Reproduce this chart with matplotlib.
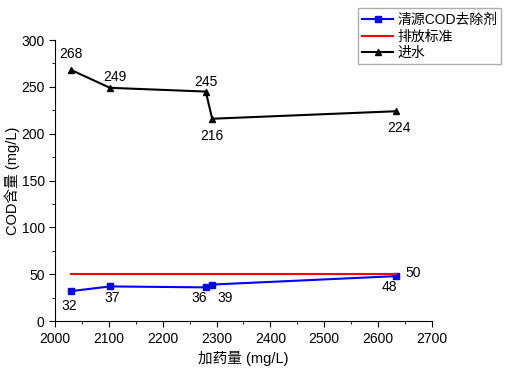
import matplotlib
matplotlib.use("Agg")
import matplotlib.pyplot as plt
from matplotlib.ticker import MultipleLocator

plt.rcParams['font.family'] = ['Liberation Sans', 'Noto Sans CJK SC', 'DejaVu Sans']

# 数据
dose = [2030, 2102, 2280, 2292, 2634]
cod_out = [32, 37, 36, 39, 48]
cod_in = [268, 249, 245, 216, 224]
std_x = [2030, 2634]
std_y = [50, 50]

fig = plt.figure(figsize=(5.05, 3.85), dpi=100)
ax = fig.add_axes([0.109, 0.166, 0.746, 0.730])

l1, = ax.plot(dose, cod_out, color="#0000ff", marker="s", ms=5, lw=1.5, label="清源COD去除剂")
l2, = ax.plot(std_x, std_y, color="#ff0000", lw=1.5, label="排放标准")
l3, = ax.plot(dose, cod_in, color="black", marker="^", ms=5, lw=1.5, label="进水")

# 数值标注 (dx, dy 为像素偏移)
off_in = [(0, 16), (5, 11), (0, 10), (0, -17), (3, -17)]
for x, y, (dx, dy) in zip(dose, cod_in, off_in):
    ax.annotate(str(y), (x, y), xytext=(dx, dy), textcoords="offset pixels",
                ha="center", va="center", fontsize=10)
off_out = [(-2, -15), (2, -12), (-7, -11), (13, -13), (-7, -11)]
for x, y, (dx, dy) in zip(dose, cod_out, off_out):
    ax.annotate(str(y), (x, y), xytext=(dx, dy), textcoords="offset pixels",
                ha="center", va="center", fontsize=10)
ax.annotate("50", (std_x[-1], std_y[-1]), xytext=(17, 1), textcoords="offset pixels",
            ha="center", va="center", fontsize=10)

ax.set_xlim(2000, 2700)
ax.set_ylim(0, 300)
ax.xaxis.set_major_locator(MultipleLocator(100))
ax.xaxis.set_minor_locator(MultipleLocator(50))
ax.yaxis.set_major_locator(MultipleLocator(50))
ax.yaxis.set_minor_locator(MultipleLocator(25))
ax.tick_params(which="major", direction="out", length=4, labelsize=10)
ax.tick_params(which="minor", direction="out", length=2)
ax.spines["top"].set_visible(False)
ax.spines["right"].set_visible(False)
ax.set_xlabel("加药量 (mg/L)", fontsize=10.5)
ax.set_ylabel("COD含量 (mg/L)", fontsize=10.5, labelpad=1)

fig.legend(handles=[l1, l2, l3], loc="upper right", bbox_to_anchor=(0.993, 0.978),
           fontsize=10, frameon=True, fancybox=False, edgecolor="#999999",
           handlelength=2.2, borderpad=0.3, labelspacing=0.2, handletextpad=0.3,
           borderaxespad=0.0)

fig.savefig("out.png", dpi=100)
